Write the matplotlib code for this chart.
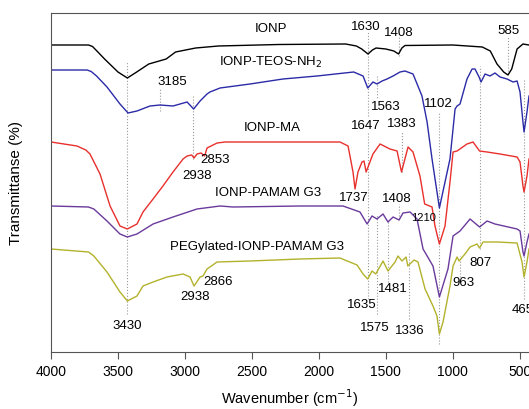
import numpy as np
import matplotlib
matplotlib.use('Agg')
import matplotlib.pyplot as plt

plt.rcParams['font.family'] = ['Liberation Sans', 'DejaVu Sans']

# spectra: wavenumber (cm-1) and transmittance (a.u., offset traces)
ionp_wn = [4000, 3720, 3690, 3650, 3600, 3500, 3430, 3360, 3270, 3140, 3070, 2920, 2750, 2300, 1800,
           1720, 1680, 1633, 1600, 1573, 1500, 1440, 1405, 1380, 1357, 1000, 780, 720,
           670, 620, 588, 560, 520, 476, 431]
ionp_t = [307, 307, 305.5, 300, 293, 280, 274, 280, 288, 293, 300, 304, 306, 307.5, 308,
          306, 303, 298, 302, 304, 303, 301, 298, 304, 306.5, 307, 305, 301,
          288, 280, 277, 283, 303, 308, 307]

teos_wn = [4000, 3730, 3700, 3660, 3582, 3485, 3425, 3358, 3261, 3186, 3089, 2984, 2935, 2887,
           2835, 2813, 2738, 2514, 2268, 2014, 1740, 1670, 1635, 1596, 1566, 1528, 1491,
           1446, 1394, 1357, 1297, 1230, 1192, 1155, 1100, 1021, 983, 968, 946, 894, 856,
           834, 804, 789, 759, 722, 685, 647, 595, 550, 520, 498, 476, 468, 446, 431]
teos_t = [282, 282, 280.5, 276, 265, 248, 239, 241, 246, 247, 246, 250, 243, 251,
          258, 260, 264, 268, 273, 276, 280, 276, 264, 270, 268, 271, 273,
          276, 280, 281, 278, 256, 230, 193, 144, 193, 243, 246, 248, 273, 283,
          283, 275, 270, 278, 276, 279, 275, 273, 270, 271, 260, 230, 220, 240, 256]

ma_wn = [4000, 3806, 3740, 3709, 3634, 3559, 3485, 3430, 3358, 3313, 3238, 3164, 3089, 3014,
         2984, 2950, 2932, 2910, 2880, 2853, 2835, 2760, 2700, 1842, 1782, 1745, 1730,
         1708, 1678, 1663, 1647, 1596, 1543, 1469, 1416, 1383, 1334, 1297, 1245, 1210,
         1155, 1133, 1100, 1058, 1021, 998, 968, 894, 849, 800, 744, 647, 520, 498, 476,
         468, 446, 431]
ma_t = [210, 206, 202, 198, 178, 146, 126, 123, 128, 140, 153, 166, 180, 193,
        196, 197, 194, 198, 199, 196, 204, 209, 210, 210, 206, 180, 163,
        180, 190, 191, 180, 198, 208, 203, 201, 180, 205, 200, 176, 148,
        145, 126, 108, 126, 170, 200, 201, 208, 210, 201, 200, 198, 195, 190, 166,
        160, 176, 193]

pamam_wn = [4000, 3720, 3680, 3582, 3485, 3430, 3358, 3238, 3089, 2910, 2738, 2641, 2141, 1820,
            1693, 1640, 1603, 1566, 1521, 1484, 1446, 1401, 1372, 1319, 1267, 1222, 1148,
            1100, 1036, 998, 946, 871, 800, 744, 685, 520, 498, 476, 468, 446, 431]
pamam_t = [146, 145, 143, 131, 118, 115, 118, 128, 135, 143, 146, 145, 146, 146,
           140, 128, 136, 133, 138, 130, 135, 132, 139, 140, 133, 103, 86,
           55, 83, 116, 121, 133, 125, 131, 128, 123, 121, 100, 96, 110, 118]

peg_wn = [4000, 3720, 3680, 3582, 3485, 3430, 3358, 3313, 3238, 3134, 3014, 2962, 2932, 2887,
          2865, 2835, 2760, 2514, 2141, 1842, 1715, 1670, 1635, 1603, 1575, 1521, 1484,
          1431, 1409, 1379, 1349, 1336, 1289, 1260, 1207, 1148, 1118, 1100, 1073, 1021,
          998, 968, 953, 909, 871, 819, 800, 774, 670, 520, 483, 468, 446, 431]
peg_t = [103, 100, 96, 80, 60, 51, 56, 66, 70, 75, 78, 75, 66, 75,
         76, 83, 90, 91, 93, 94, 87, 78, 73, 81, 78, 91, 81,
         90, 96, 91, 95, 86, 92, 90, 63, 46, 36, 18, 30, 66,
         86, 95, 91, 98, 105, 108, 104, 110, 110, 109, 90, 75, 90, 103]

series = [
    (ionp_wn, ionp_t, 'black'),
    (teos_wn, teos_t, '#2b2ba8'),
    (ma_wn, ma_t, '#e8302c'),
    (pamam_wn, pamam_t, '#6a3a9c'),
    (peg_wn, peg_t, '#b3b22c'),
]

# dotted peak guides: wavenumber, lower, upper
guide_wn = [3430, 3185, 2938, 1633, 1633, 1566, 1566, 1401, 1379, 1401, 1484, 1327, 1100, 946, 797, 588, 468]
guide_lo = [38, 241, 193, 236, 53, 276, 38, 296, 180, 133, 70, 33, 8, 75, 103, 278, 53]
guide_hi = [290, 264, 256, 320, 219, 253, 138, 315, 220, 148, 131, 100, 240, 96, 286, 316, 273]

labels = ['IONP', '1630', '1408', '585', 'IONP-TEOS-NH$_2$', '3185', '1563', '1102',
          '1647', '1383', 'IONP-MA', '2853', '2938', '1737', '1408', 'IONP-PAMAM G3',
          'PEGylated-IONP-PAMAM G3', '2866', '2938', '3430', '1635', '1481', '1575',
          '1336', '963', '807', '465']
label_wn = [2357, 1648, 1401, 588, 2357, 3096, 1499, 1110,
            1648, 1379, 2350, 2775, 2910, 1738, 1416, 2380,
            2462, 2753, 2925, 3433, 1678, 1446, 1581,
            1319, 924, 797, 476]
label_t = [324, 326, 320, 322, 291, 271, 246, 249,
           227, 229, 225, 193, 177, 155, 154, 160,
           106, 71, 56, 27, 48, 64, 25,
           22, 70, 90, 43]

fig = plt.figure(figsize=(5.29, 4.10), dpi=100)
ax = fig.add_axes([51 / 529, 57 / 410, 1 - 51 / 529, 339 / 410])

for w, lo, hi in zip(guide_wn, guide_lo, guide_hi):
    ax.plot([w, w], [lo, hi], color='#999999', linestyle=':', linewidth=0.8)

for wn, t, c in series:
    ax.plot(wn, t, color=c, linewidth=1.0)

for s, w, t in zip(labels, label_wn, label_t):
    ax.text(w, t, s, ha='center', va='center', fontsize=9.5)
ax.text(1222, 135, '1210', ha='center', va='center', fontsize=8)

ax.set_xlim(4000, 431)
ax.set_ylim(0, 339)
ax.set_xticks([4000, 3500, 3000, 2500, 2000, 1500, 1000, 500])
ax.set_yticks([])
ax.tick_params(axis='x', direction='out', length=5, labelsize=10, color='#555555')
ax.spines['right'].set_visible(False)
for sp in ['left', 'top', 'bottom']:
    ax.spines[sp].set_color('#555555')
ax.set_xlabel('Wavenumber (cm$^{-1}$)', fontsize=10.5, labelpad=6)
ax.set_ylabel('Transmittanse (%)', fontsize=11, labelpad=20)

plt.savefig('out.png', dpi=100)
